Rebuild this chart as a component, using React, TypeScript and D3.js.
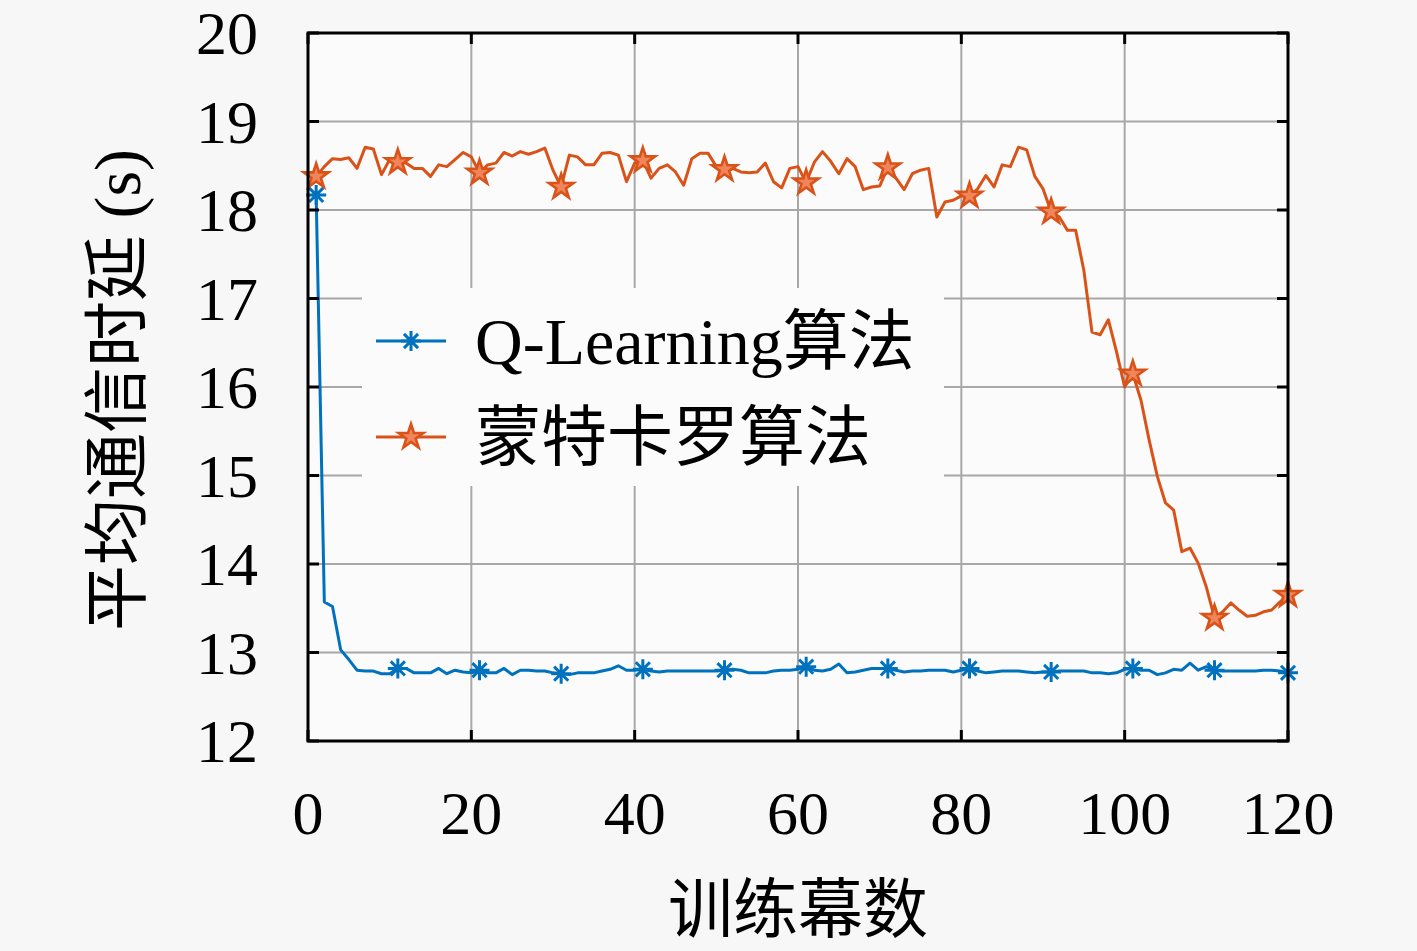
import React, { useEffect, useRef } from "react";
import * as d3 from "d3";

// 训练幕数 1..120
const episodes = d3.range(1, 121);

const qLearning = [
  18.17, 13.57, 13.52, 13.03, 12.92, 12.8, 12.79, 12.79, 12.76, 12.76,
  12.82, 12.82, 12.77, 12.77, 12.77, 12.82, 12.76, 12.8, 12.78, 12.77,
  12.8, 12.77, 12.77, 12.82, 12.75, 12.8, 12.8, 12.79, 12.79, 12.77,
  12.76, 12.75, 12.77, 12.77, 12.77, 12.79, 12.81, 12.85, 12.8, 12.8,
  12.81, 12.79, 12.78, 12.79, 12.79, 12.79, 12.79, 12.79, 12.79, 12.79,
  12.8, 12.81, 12.8, 12.77, 12.77, 12.77, 12.79, 12.8, 12.8, 12.81,
  12.84, 12.8, 12.79, 12.81, 12.87, 12.77, 12.78, 12.8, 12.82, 12.82,
  12.82, 12.8, 12.78, 12.79, 12.79, 12.8, 12.8, 12.8, 12.78, 12.8,
  12.82, 12.79, 12.77, 12.78, 12.79, 12.79, 12.79, 12.78, 12.77, 12.78,
  12.78, 12.79, 12.79, 12.79, 12.79, 12.77, 12.77, 12.76, 12.77, 12.81,
  12.82, 12.8, 12.8, 12.75, 12.77, 12.81, 12.8, 12.88, 12.8, 12.84,
  12.8, 12.79, 12.79, 12.79, 12.79, 12.79, 12.8, 12.8, 12.79, 12.77,
];

const monteCarlo = [
  18.38, 18.49, 18.58, 18.57, 18.59, 18.47, 18.71, 18.69, 18.4, 18.57,
  18.54, 18.53, 18.47, 18.47, 18.38, 18.51, 18.49, 18.57, 18.65, 18.6,
  18.42, 18.51, 18.53, 18.65, 18.61, 18.66, 18.63, 18.66, 18.7, 18.45,
  18.26, 18.62, 18.6, 18.51, 18.51, 18.64, 18.65, 18.62, 18.32, 18.53,
  18.56, 18.36, 18.47, 18.51, 18.43, 18.28, 18.58, 18.64, 18.64, 18.49,
  18.46, 18.47, 18.43, 18.42, 18.43, 18.53, 18.32, 18.25, 18.47, 18.49,
  18.31, 18.54, 18.66, 18.55, 18.41, 18.58, 18.49, 18.23, 18.26, 18.27,
  18.48, 18.36, 18.23, 18.41, 18.45, 18.47, 17.92, 18.09, 18.11, 18.16,
  18.16, 18.24, 18.39, 18.26, 18.51, 18.49, 18.71, 18.68, 18.38, 18.24,
  17.98, 17.92, 17.77, 17.77, 17.32, 16.62, 16.59, 16.76, 16.4, 16.0,
  16.15, 15.85, 15.4, 14.99, 14.69, 14.61, 14.14, 14.18, 14.01, 13.74,
  13.39, 13.46, 13.56, 13.48, 13.41, 13.42, 13.46, 13.48, 13.57, 13.65,
];

// 标记点所在的幕
const markerEpisodes = [1, 11, 21, 31, 41, 51, 61, 71, 81, 91, 101, 111, 120];

const xTicks = [0, 20, 40, 60, 80, 100, 120];
const yTicks = [12, 13, 14, 15, 16, 17, 18, 19, 20];

const seriesNames = ["Q-Learning算法", "蒙特卡罗算法"];
const colors = ["#0072BD", "#D95319"];

const W = 1417;
const H = 951;
const serif = "'Liberation Serif', 'DejaVu Serif', serif";
const cjk = "'Liberation Serif', 'Noto Sans CJK SC', sans-serif";

// 星号 *
const asterisk = (r: number) => {
  const d = r * Math.SQRT1_2;
  return `M${-r},0L${r},0M0,${-r}L0,${r}M${-d},${-d}L${d},${d}M${-d},${d}L${d},${-d}`;
};
const star = d3.symbol().type(d3.symbolStar).size(190)();

const App: React.FC = () => {
  const svgRef = useRef<SVGSVGElement | null>(null);

  useEffect(() => {
    const x = d3.scaleLinear().domain([0, 120]).range([308, 1288]);
    const y = d3.scaleLinear().domain([12, 20]).range([741, 33]);

    const svg = d3.select(svgRef.current);
    svg.selectAll("*").remove();
    svg.attr("width", W).attr("height", H);

    svg.append("rect").attr("width", W).attr("height", H).attr("fill", "#f7f7f7");
    svg
      .append("rect")
      .attr("x", x(0))
      .attr("y", y(20))
      .attr("width", x(120) - x(0))
      .attr("height", y(12) - y(20))
      .attr("fill", "#fbfbfb");

    // 网格
    const grid = svg.append("g").attr("stroke", "#a8a8a8").attr("stroke-width", 2);
    grid
      .selectAll("line.v")
      .data(xTicks.slice(1, -1))
      .enter()
      .append("line")
      .attr("x1", (d) => x(d))
      .attr("x2", (d) => x(d))
      .attr("y1", y(12))
      .attr("y2", y(20));
    grid
      .selectAll("line.h")
      .data(yTicks.slice(1, -1))
      .enter()
      .append("line")
      .attr("x1", x(0))
      .attr("x2", x(120))
      .attr("y1", (d) => y(d))
      .attr("y2", (d) => y(d));

    // 曲线
    const line = d3
      .line<number>()
      .x((_, i) => x(episodes[i]))
      .y((d) => y(d));

    [qLearning, monteCarlo].forEach((vals, k) => {
      svg
        .append("path")
        .datum(vals)
        .attr("d", line)
        .attr("fill", "none")
        .attr("stroke", colors[k])
        .attr("stroke-width", 3)
        .attr("stroke-linejoin", "round");
    });

    const drawMarker = (g: any, k: number) => {
      if (k === 0) {
        g.append("path")
          .attr("d", asterisk(10))
          .attr("stroke", colors[0])
          .attr("stroke-width", 3)
          .attr("fill", "none");
      } else {
        g.append("path")
          .attr("d", star)
          .attr("stroke", colors[1])
          .attr("stroke-width", 2.6)
          .attr("fill", "#f0845a");
      }
    };

    [qLearning, monteCarlo].forEach((vals, k) => {
      markerEpisodes.forEach((ep) => {
        const g = svg
          .append("g")
          .attr("transform", `translate(${x(ep)},${y(vals[ep - 1])})`);
        drawMarker(g, k);
      });
    });

    // 坐标框与刻度
    const frame = svg.append("g").attr("stroke", "#000").attr("stroke-width", 3);
    frame
      .append("rect")
      .attr("x", x(0))
      .attr("y", y(20))
      .attr("width", x(120) - x(0))
      .attr("height", y(12) - y(20))
      .attr("fill", "none");
    xTicks.forEach((t) => {
      frame.append("line").attr("x1", x(t)).attr("x2", x(t)).attr("y1", y(12)).attr("y2", y(12) - 11);
      frame.append("line").attr("x1", x(t)).attr("x2", x(t)).attr("y1", y(20)).attr("y2", y(20) + 11);
    });
    yTicks.forEach((t) => {
      frame.append("line").attr("x1", x(0)).attr("x2", x(0) + 11).attr("y1", y(t)).attr("y2", y(t));
      frame.append("line").attr("x1", x(120)).attr("x2", x(120) - 11).attr("y1", y(t)).attr("y2", y(t));
    });

    svg
      .append("g")
      .selectAll("text")
      .data(xTicks)
      .enter()
      .append("text")
      .attr("x", (d) => x(d))
      .attr("y", 834)
      .attr("text-anchor", "middle")
      .attr("font-family", serif)
      .attr("font-size", 62)
      .text((d) => d);

    svg
      .append("g")
      .selectAll("text")
      .data(yTicks)
      .enter()
      .append("text")
      .attr("x", 258)
      .attr("y", (d) => y(d) + 21)
      .attr("text-anchor", "end")
      .attr("font-family", serif)
      .attr("font-size", 62)
      .text((d) => d);

    // 轴标题
    svg
      .append("text")
      .attr("x", 798)
      .attr("y", 932)
      .attr("text-anchor", "middle")
      .attr("font-family", cjk)
      .attr("font-size", 65)
      .text("训练幕数");

    svg
      .append("text")
      .attr("transform", "translate(140,390) rotate(-90)")
      .attr("text-anchor", "middle")
      .attr("font-family", cjk)
      .attr("font-size", 66)
      .text("平均通信时延 (s)");

    // 图例
    const legend = svg.append("g");
    legend
      .append("rect")
      .attr("x", 362)
      .attr("y", 288)
      .attr("width", 582)
      .attr("height", 198)
      .attr("fill", "#fbfbfb");
    seriesNames.forEach((name, k) => {
      const ly = 341 + k * 96;
      legend
        .append("line")
        .attr("x1", 376)
        .attr("x2", 446)
        .attr("y1", ly)
        .attr("y2", ly)
        .attr("stroke", colors[k])
        .attr("stroke-width", 3);
      drawMarker(legend.append("g").attr("transform", `translate(411,${ly})`), k);
      legend
        .append("text")
        .attr("x", 475)
        .attr("y", ly + 23)
        .attr("font-family", cjk)
        .attr("font-size", 66)
        .text(name);
    });
  }, []);

  return (
    <div style={{ position: "absolute", left: 0, top: 0 }}>
      <svg ref={svgRef} />
    </div>
  );
};

export default App;
